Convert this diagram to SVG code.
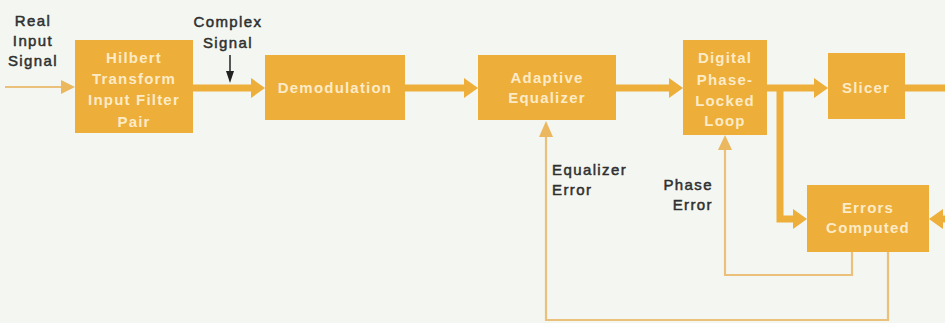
<svg xmlns="http://www.w3.org/2000/svg" width="945" height="323" viewBox="0 0 945 323">
<style>
.box{fill:#EDAE3A}
.bt{font-family:"Liberation Sans",Arial,sans-serif;font-weight:bold;font-size:15px;letter-spacing:1.2px;fill:#FCEBC6;text-anchor:middle}
.lt{font-family:"Liberation Sans",Arial,sans-serif;font-weight:normal;font-size:15px;letter-spacing:1.4px;fill:#2E3030;stroke:#2E3030;stroke-width:0.5}
.thick{stroke:#EDAE3A;stroke-width:7;fill:none}
.thin{stroke:#EBC07A;stroke-width:2.2;fill:none}
.ah{fill:#EDAE3A}
.ahl{fill:#EBB860}
</style>
<rect width="945" height="323" fill="#F4F6F1"/>
<g id="connectors">
  <line class="thin" x1="5" y1="87" x2="62" y2="87"/>
  <polygon class="ahl" points="61,80 75,87 61,94"/>
  <line class="thick" x1="193" y1="88" x2="253" y2="88"/>
  <polygon class="ah" points="251,78 265,88 251,98"/>
  <line class="thick" x1="405" y1="88" x2="466" y2="88"/>
  <polygon class="ah" points="464,78 478,88 464,98"/>
  <line class="thick" x1="616" y1="88" x2="671" y2="88"/>
  <polygon class="ah" points="669,78 683,88 669,98"/>
  <line class="thick" x1="767" y1="88" x2="816" y2="88"/>
  <polygon class="ah" points="814,78 828,88 814,98"/>
  <line class="thick" x1="905" y1="88" x2="945" y2="88"/>
  <polyline class="thick" points="780,88 780,219 795,219"/>
  <polygon class="ah" points="793,209 807,219 793,229"/>
  <line class="thick" x1="945" y1="219" x2="940" y2="219"/>
  <polygon class="ah" points="943,209 929,219 943,229"/>
  <polyline class="thin" points="852,252 852,275 725,275 725,148"/>
  <polygon class="ahl" points="718,150 725,135 732,150"/>
  <polyline class="thin" points="888,252 888,320 546,320 546,136"/>
  <polygon class="ahl" points="539,137 546,121 553,137"/>
  <line x1="230" y1="55" x2="230" y2="72" stroke="#222" stroke-width="1.5"/>
  <polygon points="226,71 230,83 234,71" fill="#222"/>
</g>
<g id="labels">
  <text class="lt" x="33" y="26" text-anchor="middle">Real</text>
  <text class="lt" x="33" y="46" text-anchor="middle">Input</text>
  <text class="lt" x="33" y="66" text-anchor="middle">Signal</text>
  <text class="lt" x="228" y="27" text-anchor="middle">Complex</text>
  <text class="lt" x="228" y="48" text-anchor="middle">Signal</text>
  <text class="lt" x="552" y="175">Equalizer</text>
  <text class="lt" x="552" y="195">Error</text>
  <text class="lt" x="713" y="190" text-anchor="end">Phase</text>
  <text class="lt" x="713" y="210" text-anchor="end">Error</text>
</g>
<g id="hilbert">
  <rect class="box" x="75" y="40" width="118" height="93"/>
  <text class="bt" x="134" y="63">Hilbert</text>
  <text class="bt" x="134" y="84">Transform</text>
  <text class="bt" x="134" y="105">Input Filter</text>
  <text class="bt" x="134" y="127">Pair</text>
</g>
<g id="demodulation">
  <rect class="box" x="265" y="55" width="140" height="65"/>
  <text class="bt" x="335" y="93">Demodulation</text>
</g>
<g id="equalizer">
  <rect class="box" x="478" y="55" width="138" height="65"/>
  <text class="bt" x="547" y="83">Adaptive</text>
  <text class="bt" x="547" y="103">Equalizer</text>
</g>
<g id="dpll">
  <rect class="box" x="683" y="40" width="84" height="95"/>
  <text class="bt" x="725" y="63">Digital</text>
  <text class="bt" x="725" y="85">Phase-</text>
  <text class="bt" x="725" y="106">Locked</text>
  <text class="bt" x="725" y="126">Loop</text>
</g>
<g id="slicer">
  <rect class="box" x="828" y="53" width="77" height="66"/>
  <text class="bt" x="866" y="93">Slicer</text>
</g>
<g id="errors">
  <rect class="box" x="807" y="185" width="122" height="67"/>
  <text class="bt" x="868" y="213">Errors</text>
  <text class="bt" x="868" y="233">Computed</text>
</g>
</svg>
